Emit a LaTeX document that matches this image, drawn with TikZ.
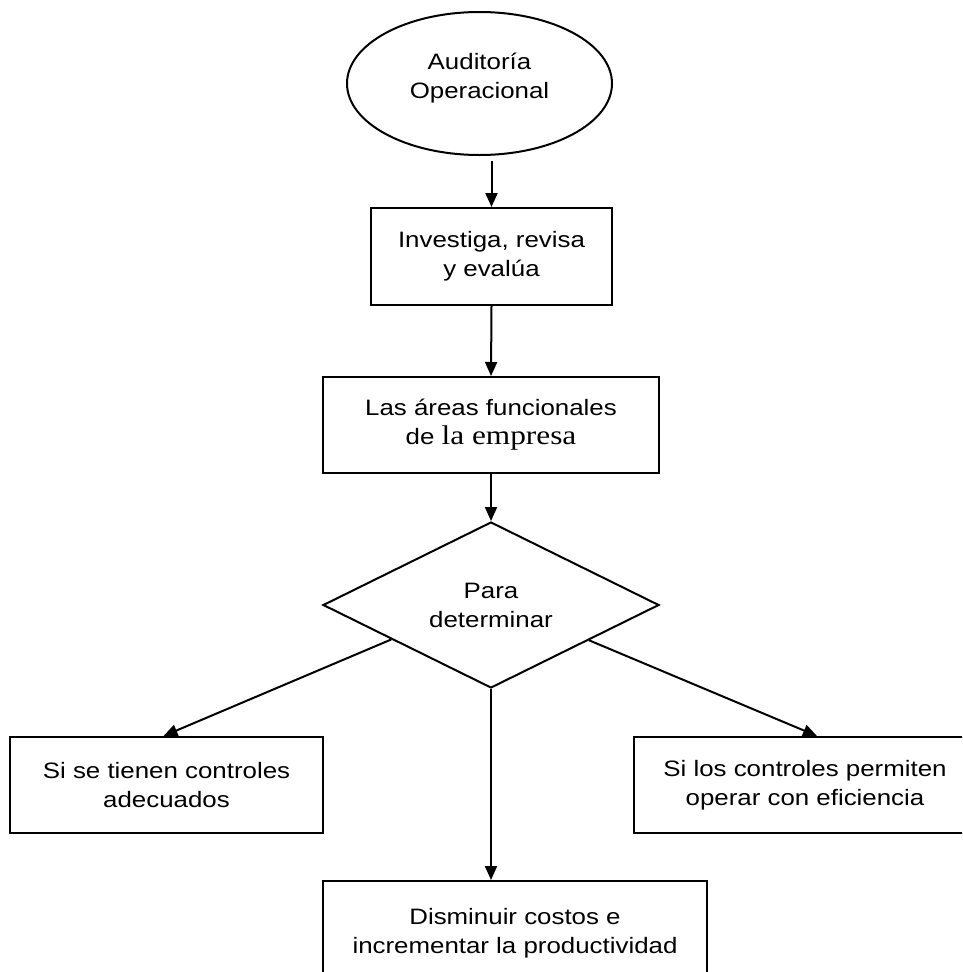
\documentclass[tikz,border=0pt]{standalone}
\usepackage{fontspec}
\setmainfont{Liberation Sans}[FakeStretch=1.16]
\newfontfamily\timesfont{Liberation Serif}[FakeStretch=1.16]
\usetikzlibrary{shapes.geometric,arrows.meta,calc}

\begin{document}
\begin{tikzpicture}[x=1pt,y=-1pt,
  shape line/.style={draw=black,line width=2pt},
  procbox/.style={shape line,rectangle,inner sep=0pt,align=center},
  label text/.style={inner sep=0pt,align=center},
  flow/.style={line width=2pt,-{Triangle[width=12pt,length=14pt]}},
  font=\fontsize{22.3}{29}\selectfont]

\useasboundingbox (0,0) rectangle (962,972);
\fill[white] (0,0) rectangle (962,972);

\begin{scope}
\clip (0,0) rectangle (962,972);

% start terminal
\node[shape line, ellipse, minimum width=265pt, minimum height=143pt, inner sep=0pt] (start) at (479.5,83.5) {};
\node[label text] (starttext) at (479.5,78) {Auditoría\\Operacional};

% process steps
\node[procbox, minimum width=241pt, minimum height=97pt] (investiga) at (491.5,256.5) {Investiga, revisa\\y evalúa};
\node[procbox, minimum width=336pt, minimum height=96pt] (areas) at (491,425)
  {Las áreas funcionales\\de {\timesfont\fontsize{27}{29}\selectfont la empresa}};

% decision
\node[shape line, diamond, aspect=2, minimum width=336pt, minimum height=166pt, inner sep=0pt, align=center] (para) at (491,605) {Para\\determinar};

% outcomes
\node[procbox, minimum width=313pt, minimum height=96pt] (tienen) at (166.5,785) {Si se tienen controles\\adecuados};
\node[procbox, minimum width=342pt, minimum height=96pt] (permiten) at (805,785) {Si los controles permiten\\operar con eficiencia};
\node[procbox, minimum width=384pt, minimum height=105pt] (costos) at (515,933.5) {Disminuir costos e\\incrementar la productividad};

% connectors
\draw[flow] ($(start.south -| investiga.north)+(0,5)$) -- (investiga.north);
\draw[flow] (investiga.south) -- (areas.north);
\draw[flow] (areas.south) -- (para.north);
\draw[flow] ($(para.west)!0.41!(para.south)$) -- ($(tienen.north)+(-3,0)$);
\draw[flow] ($(para.east)!0.42!(para.south)$) -- ($(permiten.north)+(12,0)$);
\draw[flow] (para.south) -- (para.south |- costos.north);
\end{scope}
\end{tikzpicture}
\end{document}
